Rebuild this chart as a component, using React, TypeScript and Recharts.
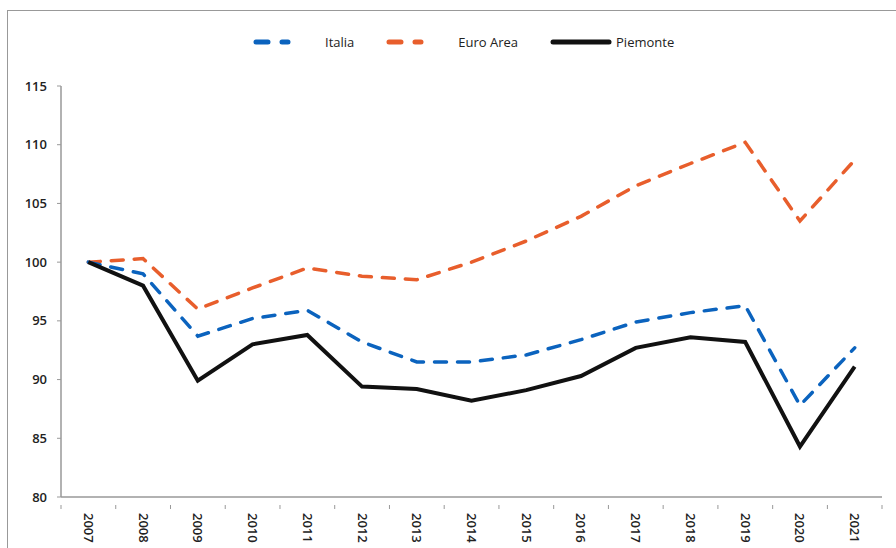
import React from 'react';
import { LineChart, Line, XAxis, YAxis } from 'recharts';

const years = ['2007', '2008', '2009', '2010', '2011', '2012', '2013', '2014', '2015', '2016', '2017', '2018', '2019', '2020', '2021'];
const italia = [100, 99.0, 93.7, 95.2, 95.9, 93.2, 91.5, 91.5, 92.1, 93.4, 94.9, 95.7, 96.3, 87.8, 92.7];
const euroArea = [100, 100.3, 96.0, 97.8, 99.5, 98.8, 98.5, 100.0, 101.8, 103.9, 106.5, 108.4, 110.2, 103.5, 108.7];
const piemonte = [100, 98.0, 89.9, 93.0, 93.8, 89.4, 89.2, 88.2, 89.1, 90.3, 92.7, 93.6, 93.2, 84.3, 91.1];
const yTicks = [80, 85, 90, 95, 100, 105, 110, 115];

const data = years.map((y, i) => ({
  year: y,
  Italia: italia[i],
  'Euro Area': euroArea[i],
  Piemonte: piemonte[i],
}));

const BLUE = '#0B63BE';
const ORANGE = '#E85E2C';
const FONT = '"Open Sans", "Noto Sans", sans-serif';
const HALF = 27.3;

const XTick = (props: any) => {
  const { x, y, payload, index } = props;
  return (
    <g>
      <line x1={x - HALF} y1={y} x2={x - HALF} y2={y + 4} stroke="#999" />
      {index === years.length - 1 && <line x1={x + HALF} y1={y} x2={x + HALF} y2={y + 4} stroke="#999" />}
      <g transform={`translate(${x},${y + 8})`}>
        <text transform="rotate(90)" x={0} y={0} dy={4.5} textAnchor="start" fontSize={13} fontWeight={600} fill="#222" fontFamily={FONT}>
          {payload.value}
        </text>
      </g>
    </g>
  );
};

const YTick = (props: any) => {
  const { x, y, payload } = props;
  return (
    <text x={x - 8} y={y} dy={4.5} textAnchor="end" fontSize={13} fontWeight={600} fill="#222" fontFamily={FONT}>
      {payload.value}
    </text>
  );
};

const LegendItem = ({ color, dashed, label }: { color: string; dashed: boolean; label: string }) => (
  <div style={{ display: 'flex', alignItems: 'center', marginRight: dashed ? 32 : 0 }}>
    <svg width={dashed ? 38 : 62} height={8} style={{ marginRight: dashed ? 34 : 4 }}>
      <line
        x1={3}
        y1={4}
        x2={dashed ? 35 : 59}
        y2={4}
        stroke={color}
        strokeWidth={5}
        strokeLinecap="round"
        strokeDasharray={dashed ? '12 14' : undefined}
      />
    </svg>
    <span style={{ fontSize: 13, color: '#222', fontFamily: FONT }}>{label}</span>
  </div>
);

export default function App() {
  return (
    <div style={{ position: 'absolute', left: 0, top: 0, width: 896, height: 548, background: '#fff' }}>
      <div style={{ position: 'absolute', left: 7, top: 10, width: 889, height: 538, borderLeft: '1.5px solid #999', borderTop: '1.5px solid #999' }} />
      <div style={{ position: 'absolute', top: 33, left: 253, display: 'flex', alignItems: 'center' }}>
        <LegendItem color={BLUE} dashed label="Italia" />
        <LegendItem color={ORANGE} dashed label="Euro Area" />
        <LegendItem color="#111" dashed={false} label="Piemonte" />
      </div>
      <div style={{ position: 'absolute', left: 0, top: 0 }}>
        <LineChart width={896} height={548} data={data} margin={{ top: 86, right: 14, bottom: 0, left: 0 }}>
          <XAxis
            dataKey="year"
            height={51}
            axisLine={{ stroke: '#999', strokeWidth: 1.5 }}
            tickLine={false}
            interval={0}
            padding={{ left: HALF, right: HALF }}
            tick={<XTick />}
          />
          <YAxis
            domain={[80, 115]}
            ticks={yTicks}
            width={61}
            axisLine={{ stroke: '#999', strokeWidth: 1.5 }}
            tickLine={{ stroke: '#999' }}
            tickSize={4}
            tick={<YTick />}
          />
          <Line dataKey="Euro Area" stroke={ORANGE} strokeWidth={3.5} strokeDasharray="12 11" strokeLinecap="round" dot={false} isAnimationActive={false} />
          <Line dataKey="Italia" stroke={BLUE} strokeWidth={3.5} strokeDasharray="12 11" strokeLinecap="round" dot={false} isAnimationActive={false} />
          <Line dataKey="Piemonte" stroke="#111" strokeWidth={4} dot={false} isAnimationActive={false} />
        </LineChart>
      </div>
    </div>
  );
}
